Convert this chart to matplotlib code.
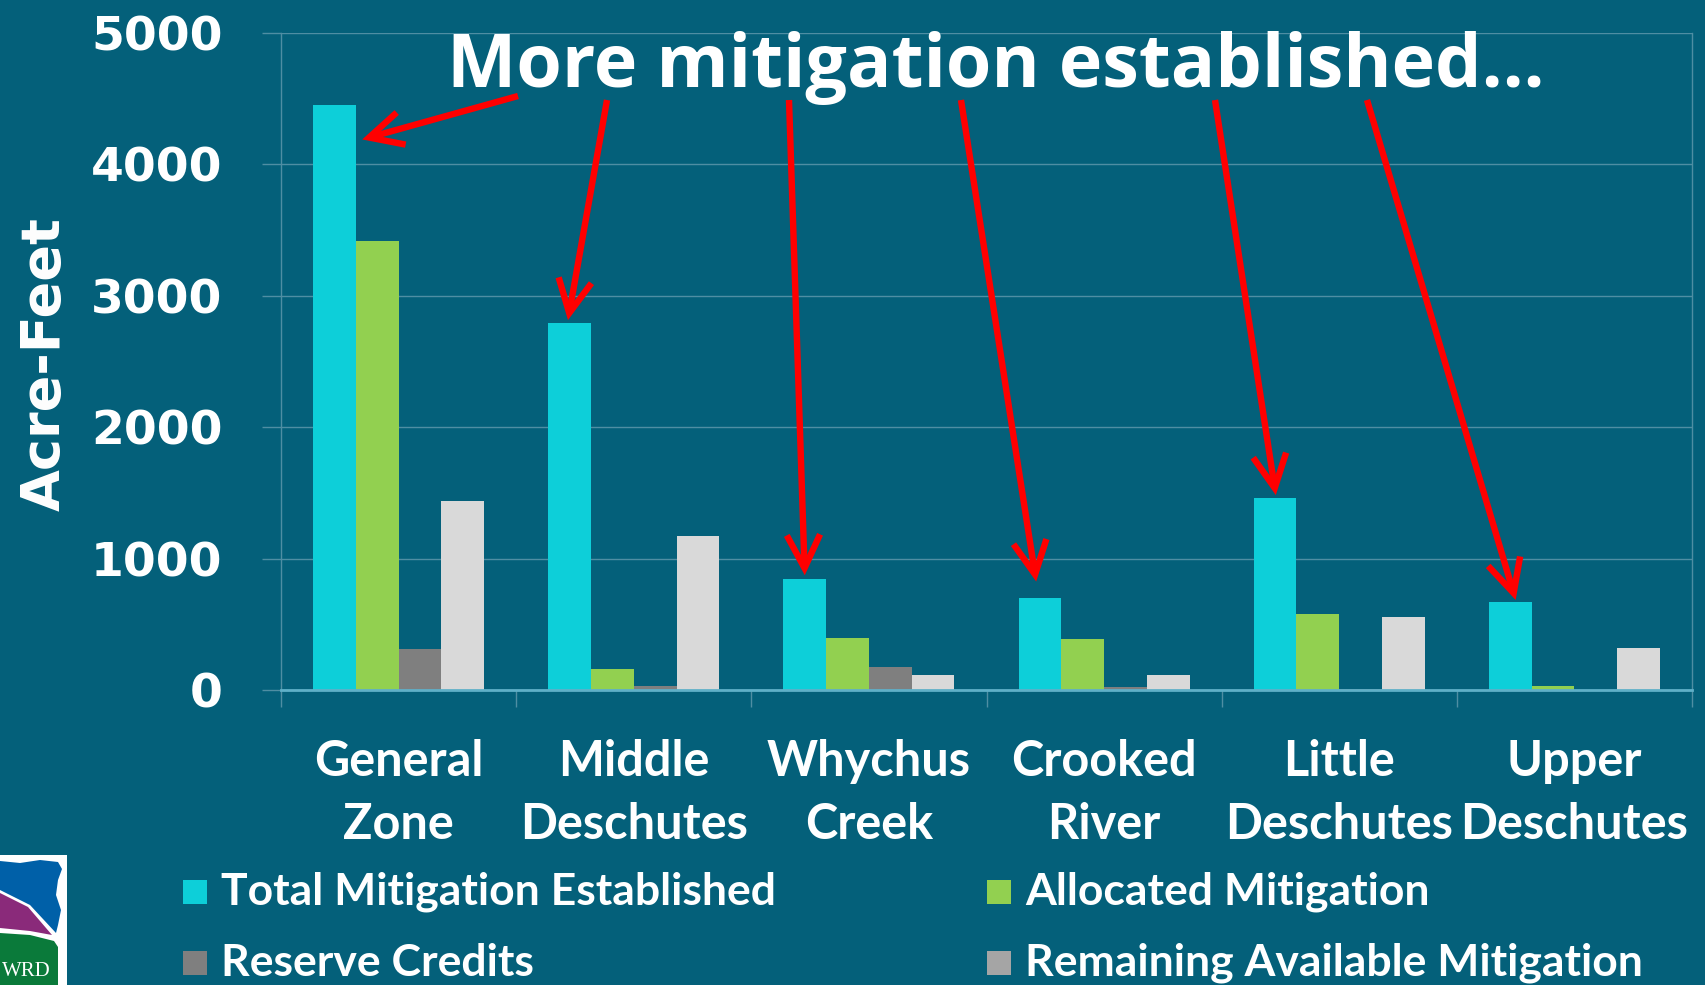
import matplotlib
matplotlib.use("Agg")
import matplotlib.pyplot as plt
import numpy as np
from matplotlib.patches import Rectangle, Polygon

# ---------------- data ----------------
categories = ["General\nZone", "Middle\nDeschutes", "Whychus\nCreek",
              "Crooked\nRiver", "Little\nDeschutes", "Upper\nDeschutes"]
total_established = [4450, 2790, 848, 700, 1463, 670]
allocated = [3420, 158, 398, 388, 576, 28]
reserve_credits = [312, 30, 178, 20, 10, 0]
remaining_available = [1440, 1172, 114, 116, 556, 322]
series_names = ["Total Mitigation Established", "Allocated Mitigation",
                "Reserve Credits", "Remaining Available Mitigation"]
y_ticks = [0, 1000, 2000, 3000, 4000, 5000]
title_text = "More mitigation established\u2026"
y_label = "Acre-Feet"

# ---------------- style ----------------
BG = "#04607a"
GRID = "#4f8ea3"
AXIS = "#5fb0c8"
C_CYAN = "#0dcfd9"
C_GREEN = "#92d050"
C_DGRAY = "#7f7f7f"
C_LGRAY = "#d9d9d9"
C_LEG_LGRAY = "#a5a5a5"
RED = "#ff0000"
W, H = 1705, 985

fig = plt.figure(figsize=(W / 100, H / 100), dpi=100)
fig.patch.set_facecolor(BG)

ax_l, ax_r, ax_t, ax_b = 281, 1692, 33, 690
ax = fig.add_axes([ax_l / W, 1 - ax_b / H, (ax_r - ax_l) / W, (ax_b - ax_t) / H])
ax.set_facecolor(BG)

x = np.arange(len(categories))
bw = 1 / 5.5
offs = np.array([-1.5, -0.5, 0.5, 1.5]) * bw
series = [total_established, allocated, reserve_credits, remaining_available]
colors = [C_CYAN, C_GREEN, C_DGRAY, C_LGRAY]
for k in range(4):
    ax.bar(x + offs[k], series[k], bw, color=colors[k], zorder=3, linewidth=0)

ax.set_xlim(-0.5, len(categories) - 0.5)
ax.set_ylim(0, 5000)
ax.set_yticks(y_ticks)
ax.set_yticklabels([str(v) for v in y_ticks])
ax.yaxis.grid(True, color=GRID, linewidth=1.0, zorder=0)
ax.set_axisbelow(True)

for s in ["left", "right"]:
    ax.spines[s].set_color(GRID)
    ax.spines[s].set_linewidth(1.0)
ax.spines["top"].set_visible(False)
ax.spines["bottom"].set_color(AXIS)
ax.spines["bottom"].set_linewidth(2.0)
ax.spines["bottom"].set_zorder(4)

ax.tick_params(axis="y", length=14, width=1, color=GRID, direction="out",
               pad=28, labelcolor="white")
for lbl in ax.get_yticklabels():
    lbl.set_fontfamily("DejaVu Sans")
    lbl.set_fontweight("bold")
    lbl.set_fontsize(34)

ax.set_xticks(x)
ax.set_xticklabels(categories)
ax.set_xticks(np.arange(-0.5, len(categories), 1.0), minor=True)
ax.tick_params(axis="x", which="major", length=0, pad=35, labelcolor="white")
ax.tick_params(axis="x", which="minor", length=12, width=1, color=GRID,
               direction="out")
for lbl in ax.get_xticklabels():
    lbl.set_fontfamily("Lato")
    lbl.set_fontweight("bold")
    lbl.set_fontsize(35)
    lbl.set_linespacing(1.5)
    lbl.set_verticalalignment("top")

# y label
fig.text(45 / W, 1 - 364 / H, y_label, rotation=90, ha="center", va="center",
         color="white", fontsize=39, fontweight="bold", family="DejaVu Sans")

# title
fig.text(996 / W, 1 - 87 / H, title_text, ha="center", va="baseline",
         color="white", fontsize=53, fontweight="bold",
         family=["Open Sans", "DejaVu Sans"])

# arrows (tips anchored on cyan bars)
arrow_starts = [(518, 96), (607, 100), (789, 100), (961, 100), (1215, 100), (1367, 100)]
tip_dx = [0.118, -0.007, 0.0, -0.016, 0.003, 0.023]
tip_dy = [-260, 25, 25, 125, 20, 15]
for i in range(len(categories)):
    sx, sy = arrow_starts[i]
    tip = (x[i] + offs[0] + tip_dx[i], total_established[i] + tip_dy[i])
    ax.annotate("", xy=tip, xycoords="data", xytext=(sx, H - sy),
                textcoords="figure pixels",
                arrowprops=dict(arrowstyle="->,head_length=1.2,head_width=0.6",
                                color=RED, lw=4.6, mutation_scale=20,
                                shrinkA=0, shrinkB=0, joinstyle="miter",
                                capstyle="butt"),
                annotation_clip=False, zorder=6)

# legend (manual, figure pixels)
leg_cols = [(183, 221), (987, 1025)]
leg_rows = [892, 963]
leg_colors = [C_CYAN, C_GREEN, C_DGRAY, C_LEG_LGRAY]
sw = 24
for k in range(4):
    r, c = divmod(k, 2)
    sx, tx = leg_cols[c]
    cy = leg_rows[r]
    fig.patches.append(Rectangle((sx / W, (H - cy - sw / 2) / H), sw / W, sw / H,
                                 transform=fig.transFigure, facecolor=leg_colors[k],
                                 edgecolor="none"))
    fig.text(tx / W, (H - cy) / H, series_names[k], ha="left", va="center",
             color="white", fontsize=32, fontweight="bold", family="Lato")

# logo fragment (bottom-left)
lax = fig.add_axes([0, 0, 67 / W, 130 / H])
lax.set_xlim(0, 67)
lax.set_ylim(130, 0)
lax.axis("off")
lax.add_patch(Rectangle((0, 0), 67, 130, facecolor="white", edgecolor="none"))
lax.add_patch(Polygon([(0, 6), (20, 8), (40, 5), (58, 7), (62, 14), (58, 25),
                       (56, 40), (61, 55), (58, 70), (56, 78), (30, 50), (0, 35)],
                      closed=True, facecolor="#0060a8", edgecolor="none"))
lax.add_patch(Polygon([(0, 38), (28, 52), (52, 80), (30, 76), (0, 73)],
                      closed=True, facecolor="#8a2a7a", edgecolor="none"))
lax.add_patch(Polygon([(0, 78), (30, 80), (54, 86), (58, 92), (58, 130), (0, 130)],
                      closed=True, facecolor="#0a7a3a", edgecolor="none"))
lax.text(2, 116, "WRD", ha="left", va="center", color="white", fontsize=15,
         family="Liberation Serif")

fig.savefig("out.png", dpi=100, facecolor=BG)
